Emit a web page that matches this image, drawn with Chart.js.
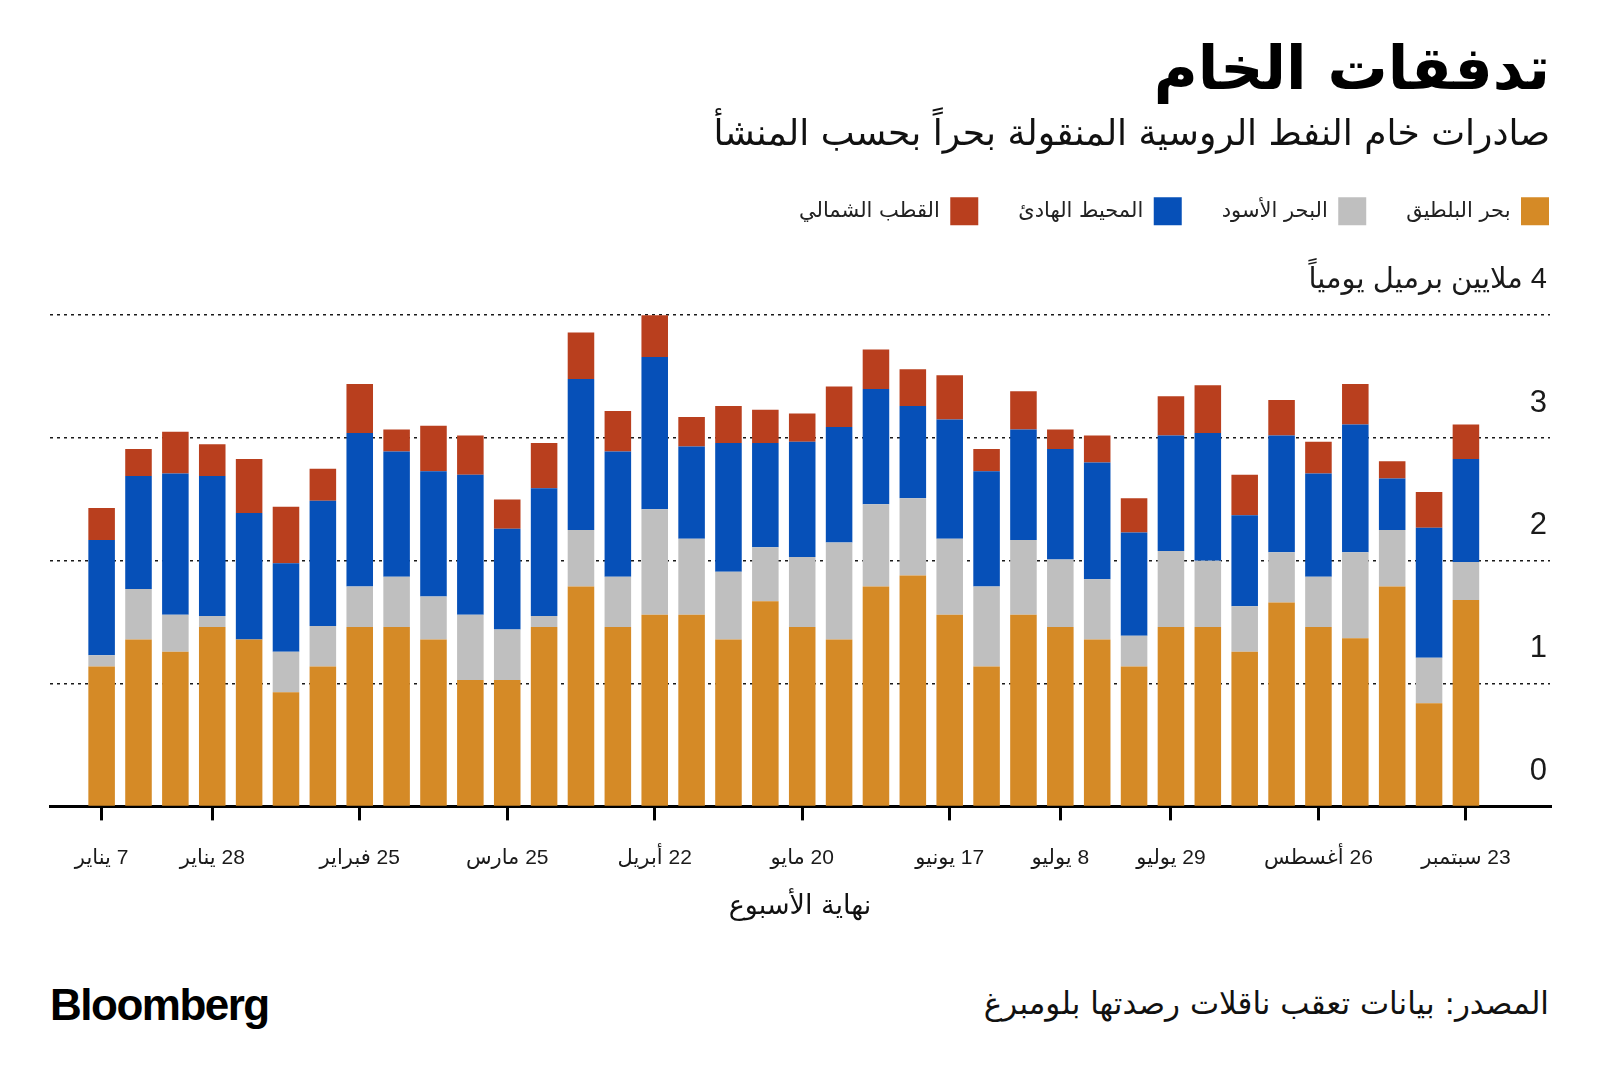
<!DOCTYPE html>
<html lang="ar" dir="rtl">
<head>
  <meta charset="UTF-8" />
  <title>تدفقات الخام</title>
  <script src="https://cdn.jsdelivr.net/npm/chart.js"></script>
  <style>
    body {
      margin: 0;
      width: 1600px;
      height: 1084px;
      background: #fff;
      font-family: 'Liberation Sans', 'DejaVu Sans', sans-serif;
      position: relative;
      overflow: hidden;
    }
    #grafica {
      position: absolute;
      left: 0;
      top: 0;
      direction: rtl;
    }
    .marca {
      position: absolute;
      left: 50px;
      top: 980px;
      font-size: 44px;
      font-weight: bold;
      letter-spacing: -1.5px;
      color: #000;
      direction: ltr;
    }
    .fuente {
      position: absolute;
      right: 51px;
      top: 985px;
      font-size: 31px;
      color: #111;
      font-family: 'DejaVu Sans', sans-serif;
    }
  </style>
</head>
<body>
  <canvas id="grafica" width="1600" height="940"></canvas>
  <div class="marca">Bloomberg</div>
  <div class="fuente">المصدر: بيانات تعقب ناقلات رصدتها بلومبرغ</div>

  <script>
    // نهاية الأسبوع (2023)
    const semanas = [
      '2023-01-07', '2023-01-14', '2023-01-21', '2023-01-28',
      '2023-02-04', '2023-02-11', '2023-02-18', '2023-02-25',
      '2023-03-04', '2023-03-11', '2023-03-18', '2023-03-25',
      '2023-04-01', '2023-04-08', '2023-04-15', '2023-04-22', '2023-04-29',
      '2023-05-06', '2023-05-13', '2023-05-20', '2023-05-27',
      '2023-06-03', '2023-06-10', '2023-06-17', '2023-06-24',
      '2023-07-01', '2023-07-08', '2023-07-15', '2023-07-22', '2023-07-29',
      '2023-08-05', '2023-08-12', '2023-08-19', '2023-08-26',
      '2023-09-02', '2023-09-09', '2023-09-16', '2023-09-23'
    ];

    // millones de barriles diarios
    const baltico = [1.14, 1.36, 1.26, 1.46, 1.36, 0.93, 1.14, 1.46, 1.46, 1.36, 1.03, 1.03, 1.46, 1.79, 1.46, 1.56, 1.56, 1.36, 1.67,
      1.46, 1.36, 1.79, 1.88, 1.56, 1.14, 1.56, 1.46, 1.36, 1.14, 1.46, 1.46, 1.26, 1.66, 1.46, 1.37, 1.79, 0.84, 1.68];
    const marNegro = [0.09, 0.41, 0.30, 0.09, 0.00, 0.33, 0.33, 0.33, 0.41, 0.35, 0.53, 0.41, 0.09, 0.46, 0.41, 0.86, 0.62, 0.55, 0.44,
      0.57, 0.79, 0.67, 0.63, 0.62, 0.65, 0.61, 0.55, 0.49, 0.25, 0.62, 0.54, 0.37, 0.41, 0.41, 0.70, 0.46, 0.37, 0.31];
    const pacifico = [0.94, 0.92, 1.15, 1.14, 1.03, 0.72, 1.02, 1.25, 1.02, 1.02, 1.14, 0.82, 1.04, 1.23, 1.02, 1.24, 0.75, 1.05, 0.85,
      0.94, 0.94, 0.94, 0.75, 0.97, 0.94, 0.90, 0.90, 0.95, 0.84, 0.94, 1.04, 0.74, 0.95, 0.84, 1.04, 0.42, 1.06, 0.84];
    const artico = [0.26, 0.22, 0.34, 0.26, 0.44, 0.46, 0.26, 0.40, 0.18, 0.37, 0.32, 0.24, 0.37, 0.38, 0.33, 0.35, 0.24, 0.30, 0.27,
      0.23, 0.33, 0.32, 0.30, 0.36, 0.18, 0.31, 0.16, 0.22, 0.28, 0.32, 0.39, 0.33, 0.29, 0.26, 0.33, 0.14, 0.29, 0.28];

    const fechasEje = ['2023-01-07', '2023-01-28', '2023-02-25', '2023-03-25', '2023-04-22', '2023-05-20',
      '2023-06-17', '2023-07-08', '2023-07-29', '2023-08-26', '2023-09-23'];
    const etiquetasEje = ['7 يناير', '28 يناير', '25 فبراير', '25 مارس', '22 أبريل', '20 مايو',
      '17 يونيو', '8 يوليو', '29 يوليو', '26 أغسطس', '23 سبتمبر'];

    const ticksY = [0, 1, 2, 3, 4];
    const unidad = 'ملايين برميل يومياً';

    const fuente = "'Liberation Sans', 'DejaVu Sans', sans-serif";
    Chart.defaults.font.family = fuente;
    Chart.defaults.color = '#1a1a1a';

    const puntos = serie => serie.map((v, i) => ({ x: i, y: v }));
    const posEje = fechasEje.map(f => semanas.indexOf(f));

    // espacio bajo la leyenda y leyenda pegada al borde derecho
    const ajusteLeyenda = {
      id: 'ajusteLeyenda',
      afterInit(chart) {
        const leyenda = chart.legend;
        const fitOriginal = leyenda.fit;
        leyenda.fit = function () {
          fitOriginal.call(this);
          this.height += 80;
        };
      },
      afterLayout(chart) {
        chart.legend.left += 39;
        chart.legend.right += 39;
      }
    };

    new Chart(document.getElementById('grafica').getContext('2d'), {
      type: 'bar',
      data: {
        datasets: [
          { label: 'بحر البلطيق', data: puntos(baltico), backgroundColor: '#D58A26' },
          { label: 'البحر الأسود', data: puntos(marNegro), backgroundColor: '#BFBFBF' },
          { label: 'المحيط الهادئ', data: puntos(pacifico), backgroundColor: '#0650B8' },
          { label: 'القطب الشمالي', data: puntos(artico), backgroundColor: '#B93F1E' }
        ]
      },
      plugins: [ajusteLeyenda],
      options: {
        responsive: false,
        animation: false,
        layout: { padding: { left: 50, right: 50, top: 0, bottom: 17 } },
        datasets: {
          bar: { categoryPercentage: 0.72, barPercentage: 1, borderWidth: 0 }
        },
        plugins: {
          tooltip: { enabled: false },
          title: {
            display: true,
            text: 'تدفقات الخام',
            align: 'end',
            color: '#000',
            font: { size: 60, weight: 'bold', family: "'DejaVu Sans', sans-serif" },
            padding: { top: 37, bottom: 0 }
          },
          subtitle: {
            display: true,
            text: 'صادرات خام النفط الروسية المنقولة بحراً بحسب المنشأ',
            align: 'end',
            color: '#111',
            font: { size: 36, family: "'DejaVu Sans', sans-serif" },
            padding: { top: 5, bottom: 0 }
          },
          legend: {
            position: 'top',
            align: 'start',
            rtl: true,
            textDirection: 'rtl',
            labels: {
              boxWidth: 28,
              boxHeight: 28,
              padding: 40,
              color: '#222',
              font: { size: 21, family: "'DejaVu Sans', sans-serif" }
            }
          }
        },
        scales: {
          x: {
            type: 'linear',
            stacked: true,
            offset: false,
            min: -1.4,
            max: 39.28,
            afterBuildTicks: s => { s.ticks = posEje.map(v => ({ value: v })); },
            grid: {
              offset: false,
              drawOnChartArea: false,
              drawTicks: true,
              tickLength: 14,
              lineWidth: 3,
              color: '#000'
            },
            border: { display: true, width: 3, color: '#000' },
            ticks: {
              autoSkip: false,
              maxRotation: 0,
              padding: 25,
              color: '#1a1a1a',
              font: { size: 21 },
              callback: v => etiquetasEje[posEje.indexOf(v)]
            },
            title: {
              display: true,
              text: 'نهاية الأسبوع',
              color: '#111',
              font: { size: 27, family: "'DejaVu Sans', sans-serif" },
              padding: { top: -5, bottom: 0 }
            }
          },
          y: {
            stacked: true,
            position: 'right',
            min: 0,
            max: 4,
            afterBuildTicks: s => { s.ticks = ticksY.map(v => ({ value: v })); },
            grid: {
              drawTicks: false,
              lineWidth: 1.5,
              color: c => c.tick && c.tick.value === 0 ? 'rgba(0,0,0,0)' : '#1a1a1a',
              borderDash: [3, 4]
            },
            border: { display: false, dash: [3, 4] },
            ticks: {
              mirror: true,
              padding: -3,
              labelOffset: -35,
              color: '#1a1a1a',
              font: c => ({ size: c.tick && c.tick.value === 4 ? 29 : 31 }),
              callback: v => v === 4 ? v + ' ' + unidad : String(v)
            }
          }
        }
      }
    });
  </script>
</body>
</html>
